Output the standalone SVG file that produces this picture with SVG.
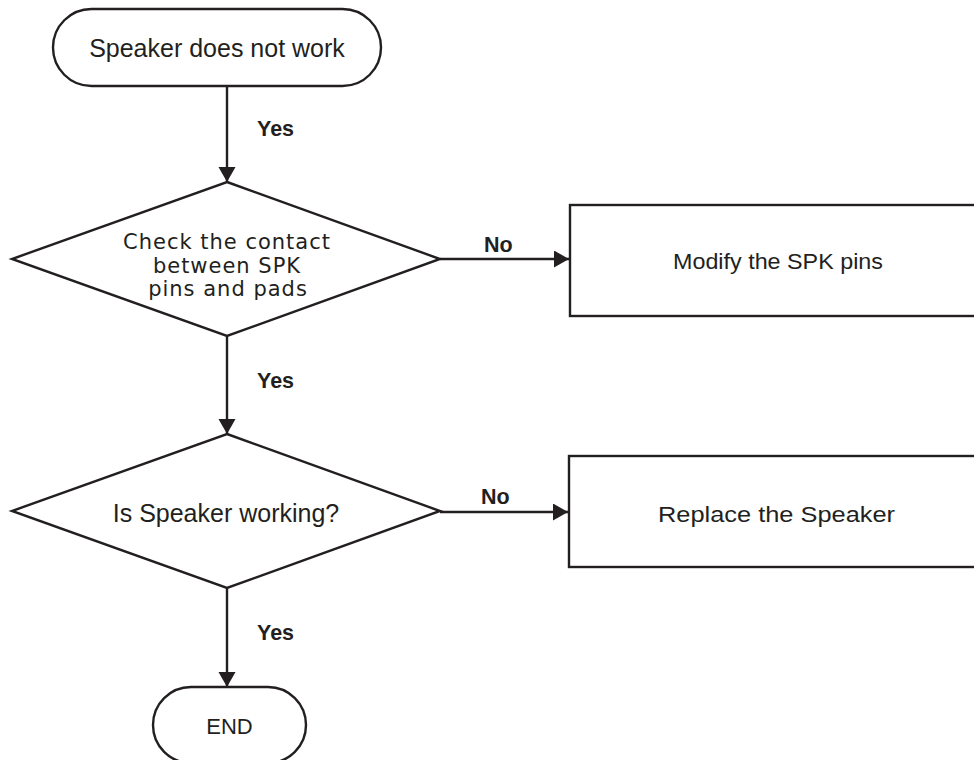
<svg xmlns="http://www.w3.org/2000/svg" width="974" height="760" viewBox="0 0 974 760">
<defs>
<marker id="arrow" markerUnits="userSpaceOnUse" markerWidth="16" markerHeight="18" refX="15" refY="8.5" orient="auto">
<path d="M0,0 L15,8.5 L0,17 Z" fill="#231f20"/>
</marker>
<style>
.shape{fill:#fff;stroke:#231f20;stroke-width:2.4}
.conn{fill:none;stroke:#231f20;stroke-width:2.4}
.t{font-family:"Liberation Sans",Arial,sans-serif;fill:#231f20;text-anchor:middle}
.d{font-family:"DejaVu Sans",sans-serif;fill:#231f20;text-anchor:middle;font-size:21px;letter-spacing:1px}
.lbl{font-family:"Liberation Sans",Arial,sans-serif;font-weight:bold;font-size:21.5px;fill:#231f20}
</style>
</defs>
<rect width="974" height="760" fill="#fff"/>
<g id="connectors">
<path class="conn" d="M227,86 V182" marker-end="url(#arrow)"/>
<path class="conn" d="M227,336 V434" marker-end="url(#arrow)"/>
<path class="conn" d="M227,588 V687" marker-end="url(#arrow)"/>
<path class="conn" d="M440,259 H569" marker-end="url(#arrow)"/>
<path class="conn" d="M440,512 H568" marker-end="url(#arrow)"/>
<text class="lbl" x="257" y="136">Yes</text>
<text class="lbl" x="257" y="388">Yes</text>
<text class="lbl" x="257" y="640">Yes</text>
<text class="lbl" x="484" y="252">No</text>
<text class="lbl" x="481" y="504">No</text>
</g>
<g id="start">
<rect class="shape" x="53" y="9" width="328" height="77" rx="38.5" ry="38.5"/>
<text class="t" x="217" y="57" font-size="25">Speaker does not work</text>
</g>
<g id="check">
<polygon class="shape" points="227,182 440,259 227,336 12,259"/>
<text class="d" x="227" y="249">Check the contact</text>
<text class="d" x="227" y="273">between SPK</text>
<text class="d" x="228" y="296">pins and pads</text>
</g>
<g id="modify">
<rect class="shape" x="570" y="205" width="420" height="111"/>
<text class="t" x="778" y="269" font-size="22" textLength="210" lengthAdjust="spacingAndGlyphs">Modify the SPK pins</text>
</g>
<g id="working">
<polygon class="shape" points="227,434 440,511 227,588 12,511"/>
<text class="t" x="226" y="522" font-size="25">Is Speaker working?</text>
</g>
<g id="replace">
<rect class="shape" x="569" y="456" width="420" height="111"/>
<text class="t" x="776.5" y="521.5" font-size="22" textLength="237" lengthAdjust="spacingAndGlyphs">Replace the Speaker</text>
</g>
<g id="end">
<rect class="shape" x="153" y="687" width="153" height="76" rx="38" ry="38"/>
<text class="t" x="229.5" y="734" font-size="22">END</text>
</g>
</svg>
